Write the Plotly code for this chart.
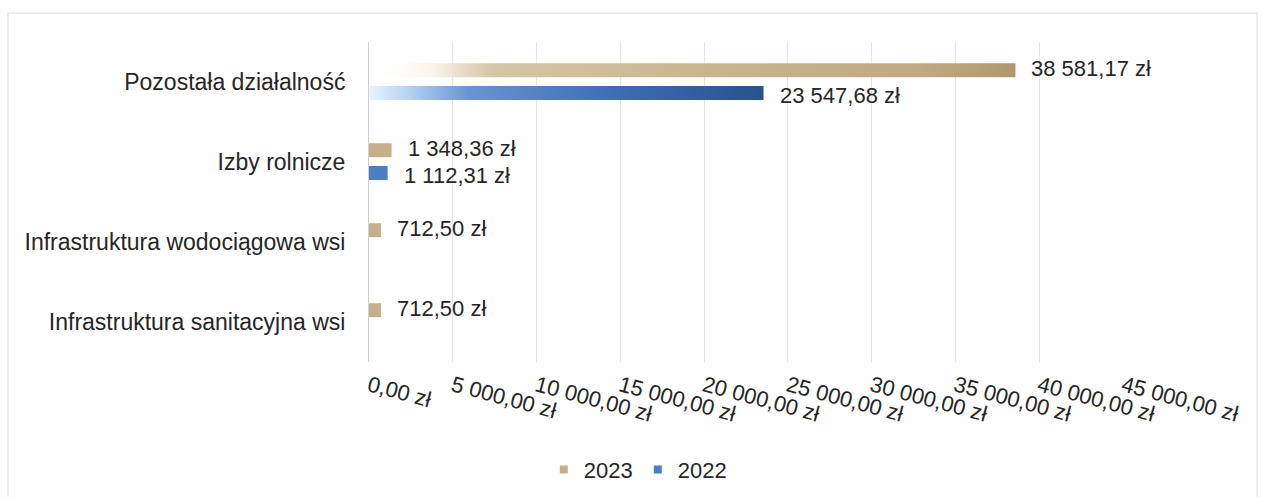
import plotly.graph_objects as go

# Data
categories = [
    "Pozostała działalność",
    "Izby rolnicze",
    "Infrastruktura wodociągowa wsi",
    "Infrastruktura sanitacyjna wsi",
]
values_2023 = [38581.17, 1348.36, 712.50, 712.50]
values_2022 = [23547.68, 1112.31, None, None]
series_names = ["2023", "2022"]
x_ticks = [0, 5000, 10000, 15000, 20000, 25000, 30000, 35000, 40000, 45000]


def pln(v):
    """Polish currency format: 38 581,17 zł"""
    whole, frac = f"{v:,.2f}".split(".")
    return whole.replace(",", " ") + "," + frac + " zł"


FONT = "Liberation Sans, Arial, sans-serif"
FS = 23
TEXT = "#262626"

# per-series bar band (offset from category centre, in category units),
# fill and the small vertical nudge of its value labels
series_style = {
    "2023": dict(
        band=(-0.235, -0.06),
        swatch="#c6b08a",
        label_shift=2,
        scale=[[0.0, "rgba(255,255,255,0)"], [0.1, "rgba(249,244,235,1)"],
               [0.19, "#d6c5a6"], [0.5, "#cab590"], [0.85, "#c0a983"], [1.0, "#b1976f"]],
    ),
    "2022": dict(
        band=(0.05, 0.225),
        swatch="#4c7ec3",
        label_shift=-2,
        scale=[[0.0, "#e8f3fd"], [0.1, "#b5d3f2"], [0.25, "#6995d4"],
               [0.6, "#3f6fb6"], [1.0, "#28528f"]],
    ),
}

fig = go.Figure()
annotations = []

for name, vals in zip(series_names, [values_2023, values_2022]):
    st = series_style[name]
    longest = max(v for v in vals if v is not None)
    for i, v in enumerate(vals):
        if v is None:
            continue
        y0, y1 = i + st["band"][0], i + st["band"][1]
        bar = dict(
            x=[0, v, v, 0, 0],
            y=[y0, y0, y1, y1, y0],
            mode="lines",
            line=dict(width=0),
            fill="toself",
            showlegend=False,
            hoverinfo="skip",
        )
        if v > 0.1 * longest:
            bar["fillgradient"] = dict(type="horizontal", colorscale=st["scale"], start=0, stop=v)
        else:
            # short bars are too narrow to show the fade; plain fill
            bar["fillcolor"] = st["swatch"]
        fig.add_trace(go.Scatter(**bar))
        annotations.append(dict(
            x=v, y=(y0 + y1) / 2, xref="x", yref="y",
            text=pln(v), showarrow=False, xanchor="left", yanchor="middle",
            xshift=14, yshift=st["label_shift"],
            font=dict(family=FONT, size=FS - 1, color=TEXT),
        ))
    # legend swatch
    fig.add_trace(go.Scatter(
        x=[None], y=[None], mode="markers", name=name,
        marker=dict(symbol="square", size=8, color=st["swatch"]),
    ))

# light outer frame around the chart
L, R, T, B = 369, 140, 42, 135
W, H = 1263, 497
pw, ph = W - L - R, H - T - B
fig.add_shape(
    type="rect", xref="paper", yref="paper",
    x0=(8 - L) / pw, x1=(1257 - L) / pw,
    y0=-(H + 10 - T - ph) / ph, y1=1 + (T - 13) / ph,
    line=dict(color="#dcdcdc", width=1), layer="below",
)

fig.update_layout(
    width=W, height=H,
    margin=dict(l=L, r=R, t=T, b=B),
    paper_bgcolor="white", plot_bgcolor="white",
    font=dict(family=FONT, size=FS, color=TEXT),
    annotations=annotations,
    showlegend=True,
    legend=dict(
        orientation="h", xref="container", yref="container",
        x=0.505, y=0.055, xanchor="center", yanchor="middle",
        font=dict(family=FONT, size=FS - 1, color=TEXT),
        itemwidth=30, tracegroupgap=0,
    ),
)

fig.update_xaxes(
    range=[0, 45000],
    tickvals=x_ticks,
    ticktext=[pln(t) for t in x_ticks],
    tickangle=15,
    showgrid=True, gridcolor="#e6e6e6", gridwidth=1,
    zeroline=False, showline=False, ticks="",
    ticklabelstandoff=6,
    tickfont=dict(family=FONT, size=FS - 1, color=TEXT),
    fixedrange=True,
)
fig.update_yaxes(
    range=[3.5, -0.5],
    tickvals=list(range(len(categories))),
    ticktext=categories,
    showgrid=False, zeroline=False,
    showline=True, linecolor="#d0d0d0", linewidth=1,
    ticks="", ticklabelstandoff=18,
    tickfont=dict(family=FONT, size=FS, color=TEXT),
    fixedrange=True,
)

fig.write_html("out.html")
